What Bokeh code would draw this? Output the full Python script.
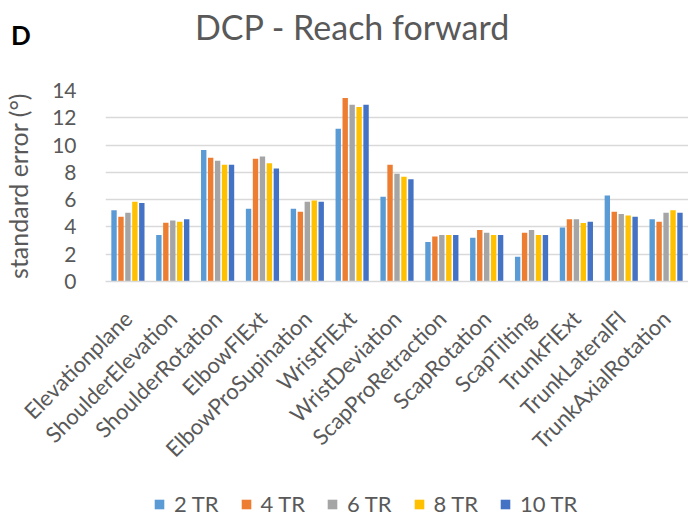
from bokeh.plotting import figure
from bokeh.models import ColumnDataSource, FactorRange, Range1d, Legend, LegendItem, FixedTicker, Div
from bokeh.layouts import column
from bokeh.transform import dodge
from bokeh.embed import file_html
from bokeh.resources import INLINE
from math import pi

categories = ["Elevationplane", "ShoulderElevation", "ShoulderRotation", "ElbowFlExt",
              "ElbowProSupination", "WristFlExt", "WristDeviation", "ScapProRetraction",
              "ScapRotation", "ScapTilting", "TrunkFlExt", "TrunkLateralFl", "TrunkAxialRotation"]
series_names = ["2 TR", "4 TR", "6 TR", "8 TR", "10 TR"]
tr2 = [5.23, 3.40, 9.63, 5.33, 5.33, 11.20, 6.21, 2.89, 3.20, 1.81, 3.96, 6.31, 4.57]
tr4 = [4.74, 4.30, 9.07, 9.00, 5.11, 13.45, 8.56, 3.30, 3.77, 3.57, 4.57, 5.11, 4.38]
tr6 = [5.04, 4.47, 8.85, 9.17, 5.84, 12.96, 7.90, 3.40, 3.57, 3.77, 4.57, 4.94, 5.04]
tr8 = [5.84, 4.38, 8.56, 8.66, 5.94, 12.79, 7.68, 3.40, 3.40, 3.40, 4.28, 4.84, 5.23]
tr10 = [5.75, 4.57, 8.56, 8.29, 5.84, 12.96, 7.50, 3.40, 3.40, 3.40, 4.38, 4.74, 5.04]
y_ticks = [0, 2, 4, 6, 8, 10, 12, 14]

colors = ["#5B9BD5", "#ED7D31", "#A5A5A5", "#FFC000", "#4472C4"]
FONT = "Lato"
TXT = "#595959"

header = Div(width=680, height=64, text=(
    '<div style="position:relative;width:680px;height:64px;">'
    '<span style="position:absolute;left:6px;top:17px;font-family:Lato;font-weight:bold;'
    'font-size:26px;line-height:26px;color:#000000;">D</span>'
    '<span style="position:absolute;left:190px;top:5px;font-family:Lato;font-weight:normal;'
    'font-size:34px;line-height:34px;color:#595959;white-space:nowrap;">DCP - Reach forward</span>'
    '</div>'))

source = ColumnDataSource(dict(cat=categories, s2=tr2, s4=tr4, s6=tr6, s8=tr8, s10=tr10))

p = figure(frame_width=583, frame_height=191, x_range=FactorRange(*categories, range_padding=0),
           y_range=Range1d(0, 14), output_backend="svg", toolbar_location=None,
           min_border_left=97, min_border_right=0, min_border_top=16, min_border_bottom=0)
p.outline_line_color = None

offsets = [-0.31, -0.155, 0.0, 0.155, 0.31]
cols = ["s2", "s4", "s6", "s8", "s10"]
for col, off, c in zip(cols, offsets, colors):
    p.vbar(x=dodge("cat", off, range=p.x_range), top=col, bottom=0, width=0.12,
           source=source, fill_color=c, line_color=None)

p.xgrid.grid_line_color = None
p.ygrid.grid_line_color = "#D9D9D9"
p.ygrid.grid_line_width = 1.5
p.yaxis.ticker = FixedTicker(ticks=y_ticks)

p.yaxis.axis_line_color = None
p.yaxis.major_tick_line_color = None
p.yaxis.minor_tick_line_color = None
p.yaxis.major_label_standoff = 23
p.yaxis.major_label_text_font = FONT
p.yaxis.major_label_text_font_size = "21px"
p.yaxis.major_label_text_color = TXT
p.yaxis.axis_label = "standard error (°)"
p.yaxis.axis_label_text_font = FONT
p.yaxis.axis_label_text_font_size = "25px"
p.yaxis.axis_label_text_font_style = "normal"
p.yaxis.axis_label_text_color = TXT
p.yaxis.axis_label_standoff = 16

p.xaxis.axis_line_color = "#D9D9D9"
p.xaxis.axis_line_width = 1.5
p.xaxis.major_tick_line_color = None
p.xaxis.minor_tick_line_color = None
p.xaxis.major_label_orientation = pi / 4
p.xaxis.major_label_standoff = 27
p.xaxis.major_label_text_font = FONT
p.xaxis.major_label_text_font_size = "22px"
p.xaxis.major_label_text_color = TXT

# legend strip: one placeholder (NaN, never drawn) renderer per series to carry its swatch colour
lg = figure(width=680, height=43, x_range=Range1d(0, 1), y_range=Range1d(0, 1),
            x_axis_location=None, y_axis_location=None, min_border=0,
            output_backend="svg", toolbar_location=None)
lg.outline_line_color = None
lg.grid.grid_line_color = None
items = []
for c, name in zip(colors, series_names):
    r = lg.vbar(x=[float("nan")], top=[float("nan")], width=0.1, fill_color=c, line_color=None)
    items.append(LegendItem(label=name, renderers=[r]))
legend = Legend(items=items, orientation="horizontal", location=(48, 0),
                glyph_width=12, glyph_height=12, label_standoff=9, spacing=21,
                padding=0, margin=0, border_line_color=None, background_fill_alpha=0,
                label_text_font=FONT, label_text_font_size="22px", label_text_color=TXT)
lg.add_layout(legend, "center")

layout = column(header, p, lg, spacing=0)
open("out.html", "w").write(file_html(layout, INLINE))
